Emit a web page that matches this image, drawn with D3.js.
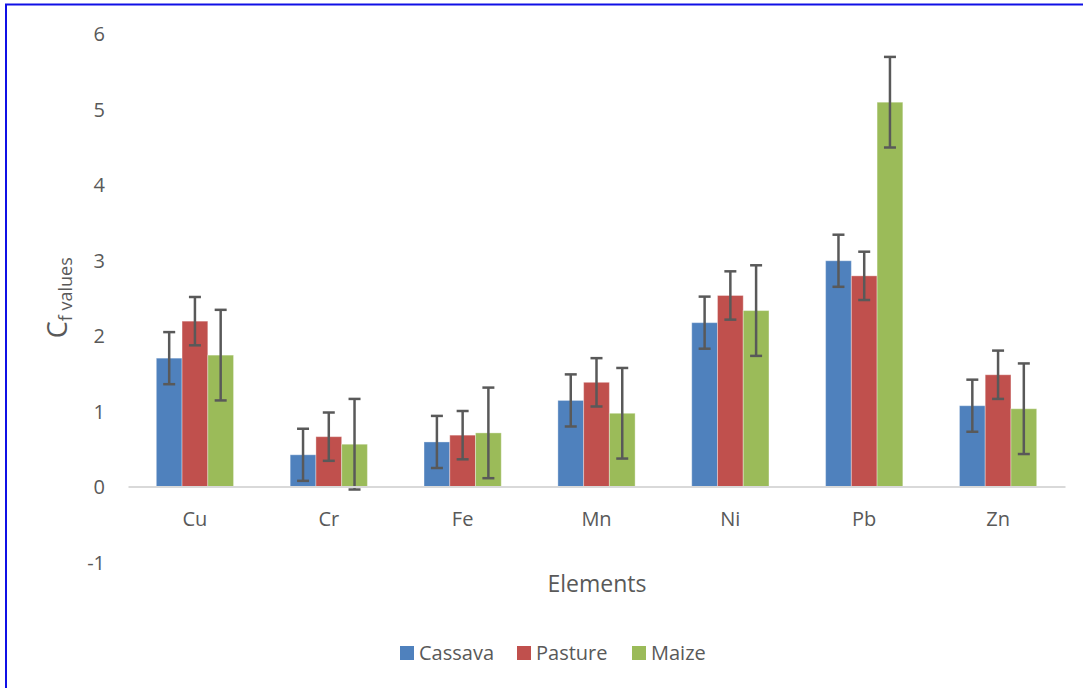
<!DOCTYPE html>
<html>
<head>
<meta charset="utf-8">
<script src="https://cdn.jsdelivr.net/npm/d3@7/dist/d3.min.js"></script>
<style>
  html, body { margin: 0; padding: 0; background: #fff; }
  svg { display: block; font-family: "Open Sans", "Noto Sans", sans-serif; }
</style>
</head>
<body>
<svg id="chart" width="1083" height="688"></svg>
<script>
const categories = ["Cu", "Cr", "Fe", "Mn", "Ni", "Pb", "Zn"];
const seriesNames = ["Cassava", "Pasture", "Maize"];
const seriesColors = ["#4f81bd", "#c0504d", "#9bbb59"];
const cassava = [1.70, 0.42, 0.59, 1.14, 2.17, 2.99, 1.07];
const pasture = [2.19, 0.66, 0.68, 1.38, 2.53, 2.79, 1.48];
const maize   = [1.74, 0.56, 0.71, 0.97, 2.33, 5.09, 1.03];
const cassavaErr = [0.345, 0.345, 0.345, 0.345, 0.345, 0.345, 0.345];
const pastureErr = [0.32, 0.32, 0.32, 0.32, 0.32, 0.32, 0.32];
const maizeErr   = [0.60, 0.60, 0.60, 0.60, 0.60, 0.60, 0.60];
const yTicks = [-1, 0, 1, 2, 3, 4, 5, 6];

const values = [cassava, pasture, maize];
const errors = [cassavaErr, pastureErr, maizeErr];
const FONT = '"Open Sans", "Noto Sans", sans-serif';

const svg = d3.select("#chart");

// outer blue frame
svg.append("rect")
  .attr("x", 6).attr("y", 4.5)
  .attr("width", 1200).attr("height", 800)
  .attr("fill", "none").attr("stroke", "#1010e6").attr("stroke-width", 2);

const plot = { left: 128, right: 1065, top: 33.5, bottom: 562 };

const x0 = d3.scaleBand().domain(categories).range([plot.left, plot.right]).padding(0);
const x1 = d3.scaleBand().domain(seriesNames).range([0, x0.bandwidth()]).paddingInner(0).paddingOuter(1.1);
const y = d3.scaleLinear().domain([-1, 6]).range([plot.bottom, plot.top]);

// y tick labels
const yAxis = d3.axisLeft(y).tickValues(yTicks).tickSize(0).tickPadding(0).tickFormat(d => String(d));
const gy = svg.append("g").attr("transform", `translate(105,0)`).call(yAxis)
  .attr("font-family", FONT);
gy.select(".domain").remove();
gy.selectAll("text").attr("fill", "#595959").attr("font-size", 20).attr("dy", "0.35em");

// bars
const groups = svg.append("g").selectAll("g")
  .data(categories)
  .join("g")
  .attr("transform", d => `translate(${x0(d)},0)`);

seriesNames.forEach((s, si) => {
  groups.append("rect")
    .attr("x", x1(s))
    .attr("y", (d, i) => y(values[si][i]))
    .attr("width", x1.bandwidth())
    .attr("height", (d, i) => y(0) - y(values[si][i]))
    .attr("fill", seriesColors[si])
    .attr("stroke", "rgba(255,255,255,0.35)")
    .attr("stroke-width", 1);
});

// x axis line at zero
const xAxis = d3.axisBottom(x0).tickSize(0).tickPadding(0);
const gx = svg.append("g").attr("transform", `translate(0,${y(0)})`).call(xAxis)
  .attr("font-family", FONT);
gx.select(".domain").attr("stroke", "#d9d9d9").attr("stroke-width", 2);
gx.selectAll("text").attr("fill", "#595959").attr("font-size", 20).attr("dy", "1.95em");

// error bars
const capW = 12;
seriesNames.forEach((s, si) => {
  const eg = groups.append("g").attr("stroke", "#595959").attr("stroke-width", 2.5);
  const cx = x1(s) + x1.bandwidth() / 2;
  eg.append("line")
    .attr("x1", cx).attr("x2", cx)
    .attr("y1", (d, i) => y(values[si][i] + errors[si][i]))
    .attr("y2", (d, i) => y(values[si][i] - errors[si][i]));
  eg.append("line")
    .attr("x1", cx - capW / 2).attr("x2", cx + capW / 2)
    .attr("y1", (d, i) => y(values[si][i] + errors[si][i]))
    .attr("y2", (d, i) => y(values[si][i] + errors[si][i]));
  eg.append("line")
    .attr("x1", cx - capW / 2).attr("x2", cx + capW / 2)
    .attr("y1", (d, i) => y(values[si][i] - errors[si][i]))
    .attr("y2", (d, i) => y(values[si][i] - errors[si][i]));
});

// y axis title
const yt = svg.append("text")
  .attr("transform", `translate(67,${(plot.top + plot.bottom) / 2}) rotate(-90)`)
  .attr("text-anchor", "middle")
  .attr("fill", "#595959");
yt.append("tspan").attr("font-size", 27).text("C");
yt.append("tspan").attr("font-size", 18).attr("dy", 5).text("f values");

// x axis title
svg.append("text")
  .attr("x", 597).attr("y", 584).attr("dy", "0.35em")
  .attr("text-anchor", "middle")
  .attr("fill", "#595959").attr("font-size", 23)
  .text("Elements");

// legend
const legendX = [400, 517, 632];
const lg = svg.append("g").selectAll("g").data(seriesNames).join("g")
  .attr("transform", (d, i) => `translate(${legendX[i]},653)`);
lg.append("rect").attr("x", 0).attr("y", -7).attr("width", 14).attr("height", 14)
  .attr("fill", (d, i) => seriesColors[i]);
lg.append("text").attr("x", 19).attr("dy", "0.35em")
  .attr("fill", "#595959").attr("font-size", 20).text(d => d);
</script>
</body>
</html>
